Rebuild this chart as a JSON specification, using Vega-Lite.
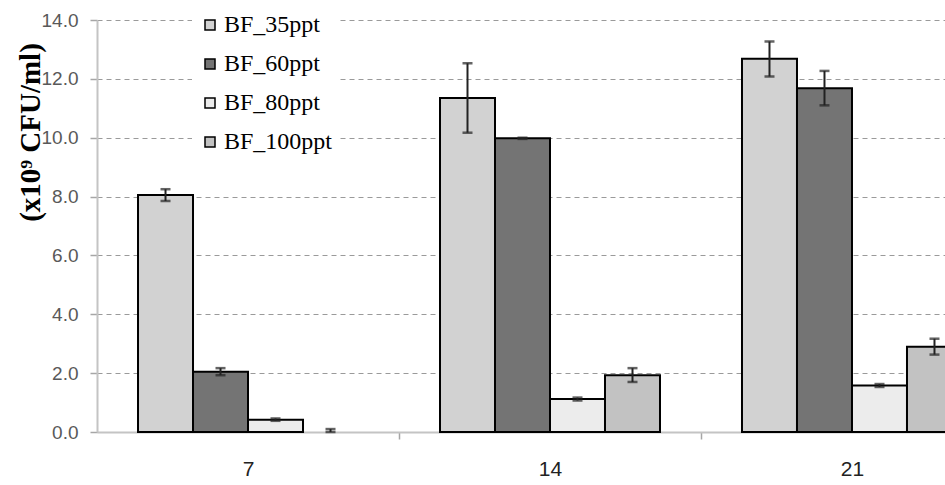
{
  "$schema": "https://vega.github.io/schema/vega-lite/v6.json",
  "autosize": "none",
  "padding": {"left": 97, "top": 20, "right": 0, "bottom": 53},
  "width": 848,
  "height": 412,
  "background": "white",
  "config": {
    "view": {"stroke": null},
    "legend": {"labelFont": "Liberation Serif", "labelFontSize": 24, "labelColor": "black"}
  },
  "data": {
    "values": [
      {"day": "7", "series": "BF_35ppt", "value": 8.05, "lo": 7.85, "hi": 8.25},
      {"day": "7", "series": "BF_60ppt", "value": 2.05, "lo": 1.93, "hi": 2.17},
      {"day": "7", "series": "BF_80ppt", "value": 0.42, "lo": 0.38, "hi": 0.46},
      {"day": "7", "series": "BF_100ppt", "value": 0.0, "lo": 0.0, "hi": 0.1},
      {"day": "14", "series": "BF_35ppt", "value": 11.35, "lo": 10.17, "hi": 12.53},
      {"day": "14", "series": "BF_60ppt", "value": 9.98, "lo": 9.96, "hi": 10.0},
      {"day": "14", "series": "BF_80ppt", "value": 1.12, "lo": 1.07, "hi": 1.17},
      {"day": "14", "series": "BF_100ppt", "value": 1.93, "lo": 1.7, "hi": 2.17},
      {"day": "21", "series": "BF_35ppt", "value": 12.68, "lo": 12.08, "hi": 13.27},
      {"day": "21", "series": "BF_60ppt", "value": 11.68, "lo": 11.1, "hi": 12.27},
      {"day": "21", "series": "BF_80ppt", "value": 1.58, "lo": 1.53, "hi": 1.63},
      {"day": "21", "series": "BF_100ppt", "value": 2.9, "lo": 2.63, "hi": 3.17}
    ]
  },
  "encoding": {
    "x": {
      "field": "day",
      "type": "nominal",
      "sort": ["7", "14", "21"],
      "scale": {"range": [0, 906], "paddingInner": 0.2715, "paddingOuter": 0.1358},
      "axis": {
        "title": null,
        "labelAngle": 0,
        "tickBand": "center",
        "tickOffset": 151,
        "labelOffset": -151,
        "tickSize": 7,
        "tickColor": "#a6a6a6",
        "tickWidth": 1.5,
        "domainColor": "#c4c4c4",
        "domainWidth": 2,
        "labelFont": "Liberation Sans",
        "labelFontSize": 21,
        "labelColor": "#222222",
        "labelPadding": 19,
        "grid": false
      }
    },
    "xOffset": {
      "field": "series",
      "type": "nominal",
      "sort": ["BF_35ppt", "BF_60ppt", "BF_80ppt", "BF_100ppt"],
      "scale": {"paddingInner": 0, "paddingOuter": 0}
    }
  },
  "layer": [
    {
      "mark": {"type": "bar", "stroke": "black", "strokeWidth": 2},
      "encoding": {
        "y": {
          "field": "value",
          "type": "quantitative",
          "scale": {"domain": [0, 14], "nice": false},
          "axis": {
            "title": "(x10⁹ CFU/ml)",
            "titleFont": "Liberation Serif",
            "titleFontWeight": "bold",
            "titleFontSize": 29,
            "titleColor": "black",
            "titleAngle": -90,
            "titleX": -67,
            "titleY": 112,
            "titleAlign": "center",
            "titleBaseline": "middle",
            "values": [0, 2, 4, 6, 8, 10, 12, 14],
            "format": ".1f",
            "labelFont": "Liberation Sans",
            "labelFontSize": 19,
            "labelColor": "#595959",
            "labelPadding": 12,
            "tickSize": 7,
            "tickColor": "#a6a6a6",
            "tickWidth": 1.5,
            "domainColor": "#c4c4c4",
            "domainWidth": 2,
            "grid": true,
            "gridColor": "#9a9a9a",
            "gridDash": [5, 4],
            "gridWidth": 1
          }
        },
        "color": {
          "field": "series",
          "type": "nominal",
          "sort": ["BF_35ppt", "BF_60ppt", "BF_80ppt", "BF_100ppt"],
          "scale": {"range": ["#d2d2d2", "#747474", "#ececec", "#c2c2c2"]},
          "legend": {
            "orient": "none",
            "legendX": 95,
            "legendY": -13,
            "title": null,
            "symbolType": "square",
            "symbolSize": 100,
            "symbolStrokeColor": "black",
            "symbolStrokeWidth": 1.5,
            "labelFont": "Liberation Serif",
            "labelFontSize": 24,
            "labelColor": "black",
            "labelOffset": 2,
            "rowPadding": 15,
            "fillColor": "white",
            "padding": 6
          }
        },
        "strokeWidth": {
          "condition": {"test": "datum.value < 0.05", "value": 0},
          "value": 2
        }
      }
    },
    {
      "mark": {"type": "rule", "color": "#222222", "strokeWidth": 2},
      "encoding": {
        "y": {"field": "lo", "type": "quantitative"},
        "y2": {"field": "hi"}
      }
    },
    {
      "mark": {"type": "tick", "color": "#222222", "thickness": 2.5, "size": 10},
      "encoding": {"y": {"field": "hi", "type": "quantitative"}}
    },
    {
      "mark": {"type": "tick", "color": "#222222", "thickness": 2.5, "size": 10},
      "encoding": {"y": {"field": "lo", "type": "quantitative"}}
    }
  ]
}
